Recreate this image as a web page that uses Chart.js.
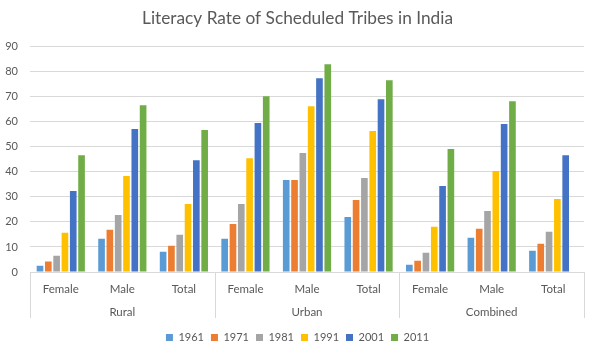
<!DOCTYPE html>
<html>
<head>
<meta charset="utf-8">
<script src="https://cdn.jsdelivr.net/npm/chart.js@4"></script>
<style>
html,body{margin:0;padding:0;background:#fff;}
#wrap{width:595px;height:352px;position:relative;}
</style>
</head>
<body>
<div id="wrap"><canvas id="c"></canvas></div>
<script>
const categories = ['Female','Male','Total','Female','Male','Total','Female','Male','Total'];
const groups = ['Rural','Urban','Combined'];
const years = ['1961','1971','1981','1991','2001','2011'];
const s1961 = [2.5, 13.3, 8.1, 13.3, 36.8, 22.0, 2.9, 13.7, 8.5];
const s1971 = [4.2, 16.9, 10.5, 19.2, 36.8, 28.8, 4.5, 17.3, 11.3];
const s1981 = [6.5, 22.8, 14.9, 27.2, 47.5, 37.6, 7.7, 24.4, 16.1];
const s1991 = [15.7, 38.4, 27.2, 45.5, 66.2, 56.3, 18.1, 40.4, 29.2];
const s2001 = [32.4, 57.1, 44.7, 59.5, 77.4, 69.0, 34.4, 59.1, 46.7];
const s2011 = [46.7, 66.6, 56.7, 70.2, 83.0, 76.6, 49.1, 68.2, null];
const yTicks = [0,10,20,30,40,50,60,70,80,90];
const colors = ['#5B9BD5','#ED7D31','#A5A5A5','#FFC000','#4472C4','#70AD47'];
const seriesList = [s1961,s1971,s1981,s1991,s2001,s2011];

const FONT = 'Lato, "Open Sans", sans-serif';
const TXT = '#595959';
const GRID = '#d9d9d9';

const separators = {
  id: 'separators',
  afterDraw(chart) {
    const xs = chart.scales.x, x2 = chart.scales.x2, area = chart.chartArea;
    const ctx = chart.ctx;
    const bounds = [area.left];
    for (let i = 3; i < categories.length; i += 3) {
      bounds.push((xs.getPixelForValue(i - 1) + xs.getPixelForValue(i)) / 2);
    }
    bounds.push(area.right);
    ctx.save();
    ctx.strokeStyle = GRID;
    ctx.lineWidth = 1;
    bounds.forEach(b => {
      const x = Math.round(b) + 0.5;
      ctx.beginPath();
      ctx.moveTo(x, area.bottom);
      ctx.lineTo(x, x2.top + 15);
      ctx.stroke();
    });
    ctx.restore();
  }
};

new Chart(document.getElementById('c'), {
  type: 'bar',
  data: {
    labels: categories,
    datasets: years.map((y, i) => ({
      label: y,
      data: seriesList[i],
      backgroundColor: colors[i],
      borderWidth: 0,
      categoryPercentage: 0.81,
      barPercentage: 0.8
    }))
  },
  options: {
    responsive: true,
    maintainAspectRatio: false,
    animation: false,
    layout: { padding: { left: 0, right: 0, top: 4, bottom: -1 } },
    plugins: {
      title: {
        display: true,
        text: 'Literacy Rate of Scheduled Tribes in India',
        color: TXT,
        font: { family: FONT, size: 17.3, weight: 'normal' },
        padding: { top: 4, bottom: 18 }
      },
      legend: {
        position: 'bottom',
        labels: {
          color: TXT,
          font: { family: FONT, size: 11 },
          boxWidth: 7,
          boxHeight: 7,
          padding: 7
        }
      },
      tooltip: { enabled: false }
    },
    scales: {
      x: {
        grid: { display: false, drawTicks: false },
        border: { display: true, color: GRID },
        ticks: { color: TXT, font: { family: FONT, size: 11.5 }, padding: 10, maxRotation: 0 },
        afterFit(s) { s.height = 31; }
      },
      x2: {
        type: 'category',
        labels: groups,
        position: 'bottom',
        grid: { display: false, drawTicks: false },
        border: { display: false },
        ticks: { color: TXT, font: { family: FONT, size: 11.5 }, padding: 2, maxRotation: 0 },
        afterFit(s) { s.height = 22; }
      },
      y: {
        min: 0,
        max: 90,
        afterBuildTicks(scale) { scale.ticks = yTicks.map(v => ({ value: v })); },
        afterFit(s) { s.width = 30; },
        grid: { color: GRID, drawTicks: false },
        border: { display: false },
        ticks: { color: TXT, font: { family: FONT, size: 11 }, padding: 12 }
      },
      yRight: {
        type: 'linear',
        position: 'right',
        display: true,
        grid: { display: false, drawTicks: false },
        border: { display: false },
        ticks: { display: false },
        afterFit(s) { s.width = 11; }
      }
    }
  },
  plugins: [separators]
});
</script>
</body>
</html>
